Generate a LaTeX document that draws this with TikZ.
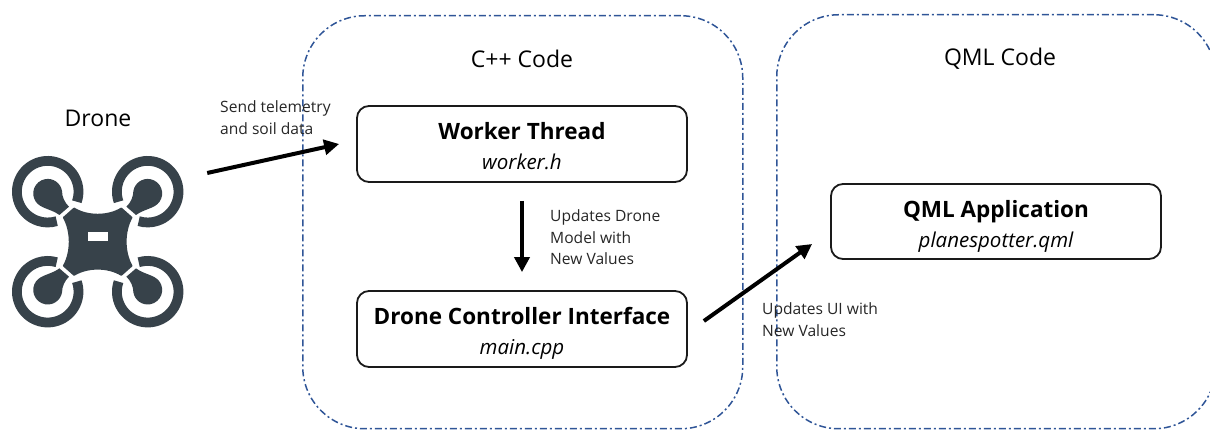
\documentclass[tikz,border=0pt]{standalone}
\usepackage{fontspec}
\setmainfont{Open Sans}
\usetikzlibrary{arrows.meta}
\definecolor{dronecol}{HTML}{37424A}
\definecolor{zoneblue}{HTML}{2F5597}
\definecolor{edgecol}{HTML}{1A1A1A}
\tikzset{
  x=1pt,y=1pt,
  zone/.style={draw=zoneblue,line width=1.5pt,rounded corners=62pt,dash pattern=on 7pt off 3pt on 2pt off 3pt,anchor=north west,inner sep=0pt,minimum width=#1},
  zonetitle/.style={font=\fontsize{23}{27}\selectfont,text=black,inner sep=0pt},
  compbox/.style={draw=edgecol,line width=1.8pt,rounded corners=12pt,minimum width=330pt,minimum height=76pt,align=center,inner sep=0pt,font=\fontsize{22.5}{30}\selectfont},
  smalltxt/.style={font=\fontsize{15.6}{21.5}\selectfont,text=black!85,align=left,anchor=north west,inner sep=0pt},
  flow/.style={line width=4pt,draw=black,-{Triangle[length=15pt,width=15pt]}},
}
\newcommand{\boxtext}[2]{\rule{0pt}{26pt}{\bfseries #1}\\{\fontsize{20.5}{30}\selectfont\itshape\vphantom{p}#2}}
\begin{document}
\begin{tikzpicture}
\clip (0,0) rectangle (1210,430);
\node[zone=440pt,minimum height=413pt] (cppzone) at (302,415) {};
\node[zone=439pt,minimum height=414pt] (qmlzone) at (776,416) {};
\node[zonetitle] (cpptitle) at (522,371) {C++ Code};
\node[zonetitle] (qmltitle) at (1000,371) {QML Code};
\node[zonetitle] (dronetitle) at (98,312) {Drone};
% drone icon
\node[minimum width=170pt,minimum height=170pt,inner sep=0pt] (drone) at (97.7,188.3) {};
\begin{scope}[shift={(97.7,188.3)}]
  \foreach \sx/\sy in {1/1,-1/1,1/-1,-1/-1}{
    \begin{scope}[xscale=\sx,yscale=\sy]
      \draw[dronecol,line width=9.8pt] (-50,50) ++(-19:30.8) arc[start angle=-19,end angle=287,radius=30.8];
      \fill[dronecol] (-28.7,35) .. controls (-33,39) and (-35.7,45) .. (-35.7,50.8)
        arc[start angle=10,end angle=215,radius=14.5]
        .. controls (-57,33) and (-47,33) .. (-38.3,26.7) -- cycle;
    \end{scope}
  }
  \fill[dronecol,rounded corners=0.6pt] (-23.7,34.3) .. controls (-10,25.9) and (10,25.9) .. (23.7,34.3)
    -- (35,24.3) .. controls (27,10) and (27,-10) .. (35,-24.3)
    -- (23.7,-34.3) .. controls (10,-25.9) and (-10,-25.9) .. (-23.7,-34.3)
    -- (-35,-24.3) .. controls (-27,-10) and (-27,10) .. (-35,24.3) -- cycle;
  \fill[white] (-10,1) rectangle (10,10);
\end{scope}
\node[compbox] (worker) at (522,286) {\boxtext{Worker Thread}{worker.h}};
\node[compbox] (controller) at (522,101) {\boxtext{Drone Controller Interface}{main.cpp}};
\node[compbox,minimum height=75pt] (qml) at (996,208.5) {\boxtext{QML Application}{planespotter.qml}};
\draw[flow] ([shift={(24.3,68.7)}]drone.east) -- ([shift={(-17,0)}]worker.west);
\draw[flow] ([yshift=-18pt]worker.south) -- ([yshift=18pt]controller.north);
\draw[flow] ([shift={(16,8)}]controller.east) -- ([shift={(-18,-22.5)}]qml.west);
\node[smalltxt] (sendlabel) at (220,329.5) {Send telemetry\\and soil data};
\node[smalltxt] (updlabel) at (550,220.5) {Updates Drone\\Model with\\New Values};
\node[smalltxt] (uilabel) at (762,127.5) {Updates UI with\\New Values};
\end{tikzpicture}
\end{document}
